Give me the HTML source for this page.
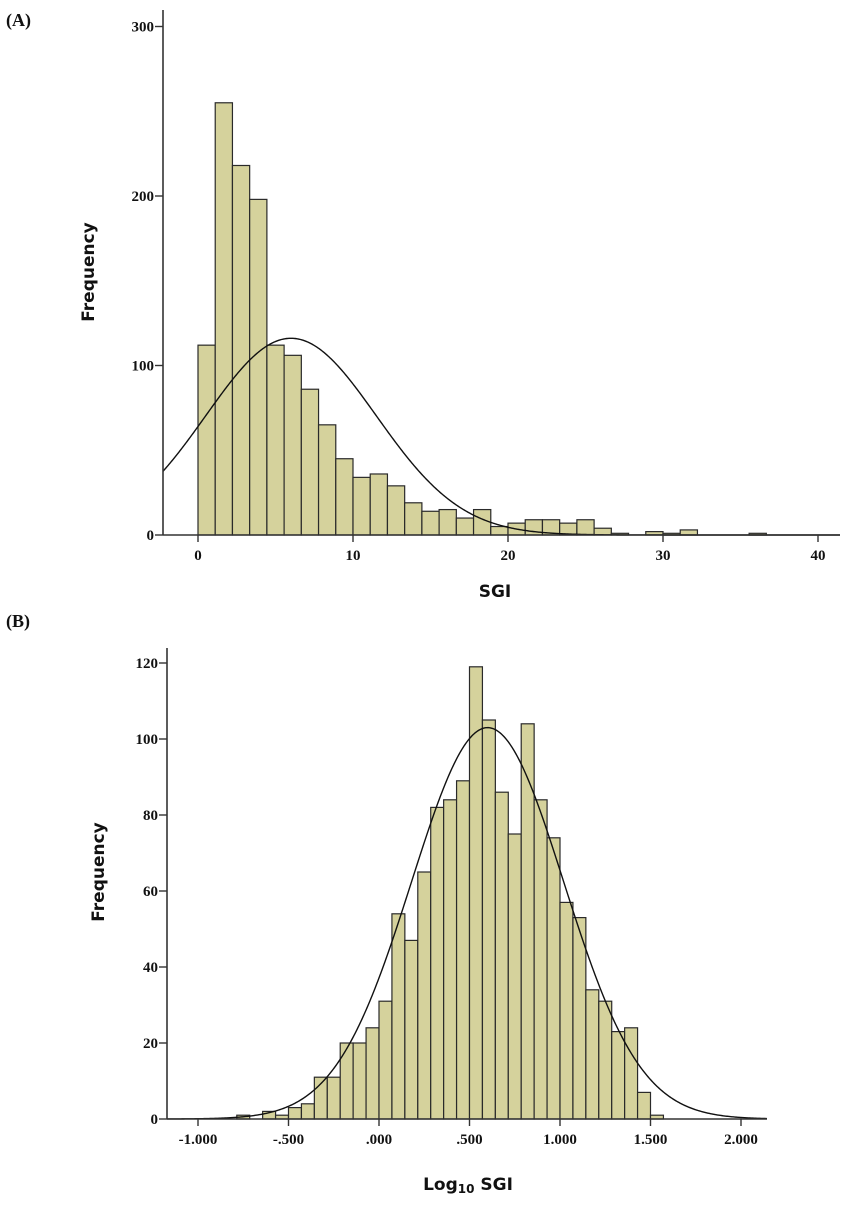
<!DOCTYPE html>
<html><head><meta charset="utf-8"><style>
body{margin:0;background:#fff;}
svg{display:block;}
.tk{font-family:"Liberation Serif",serif;font-weight:bold;font-size:15px;fill:#111;}
.ttl{font-family:"DejaVu Sans","Liberation Sans",sans-serif;font-weight:bold;font-size:17px;fill:#111;}
.pl{font-family:"Liberation Serif",serif;font-weight:bold;font-size:18px;fill:#111;}
</style></head><body>
<svg id="root" width="850" height="1205" viewBox="0 0 850 1205" xmlns="http://www.w3.org/2000/svg">
<text class="pl" x="6" y="26">(A)</text>
<text class="pl" x="6" y="627">(B)</text>
<text class="ttl" transform="translate(94,272) rotate(-90)" text-anchor="middle">Frequency</text>
<text class="ttl" x="495" y="597" text-anchor="middle">SGI</text>
<text class="ttl" transform="translate(104,872) rotate(-90)" text-anchor="middle">Frequency</text>
<text class="ttl" x="468" y="1190" text-anchor="middle">Log<tspan font-size="12" dy="3">10</tspan><tspan dy="-3"> SGI</tspan></text>
<g id="ga"></g><g id="gb"></g>
</svg>
<script>
// Chart A data
const binWidthA = 10/9;
const countsA = [112,255,218,198,112,106,86,65,45,34,36,29,19,14,15,10,15,5,7,9,9,7,9,4,1,0,2,1,3,0,0,0,1];
const xTicksA = [0,10,20,30,40];
const yTicksA = [0,100,200,300];
const normalA = [6.0, 5.5, 1440]; // mean, sd, n
// Chart B data
const binWidthB = 1/14;
const binStartB = -11/14;
const countsB = [1,0,2,1,3,4,11,11,20,20,24,31,54,47,65,82,84,89,119,105,86,75,104,84,74,57,53,34,31,23,24,7,1];
const xTicksB = [-1,-0.5,0,0.5,1,1.5,2];
const xTickLabelsB = ["-1.000","-.500",".000",".500","1.000","1.500","2.000"];
const yTicksB = [0,20,40,60,80,100,120];
const normalB = [0.60, 0.42, 1518];

const NS="http://www.w3.org/2000/svg";
function mk(tag,attrs,parent){const e=document.createElementNS(NS,tag);for(const k in attrs)e.setAttribute(k,attrs[k]);parent.appendChild(e);return e;}

function drawChart(g, o){
  const sx=v=>o.x0+(v-o.v0)*o.kx, sy=v=>o.y0-v*o.ky;
  // bars
  o.counts.forEach((c,i)=>{
    if(c<=0)return;
    const a=o.start+i*o.w, b=a+o.w;
    const r=mk('rect',{x:sx(a),y:sy(c),width:sx(b)-sx(a),height:sy(0)-sy(c),fill:'#d5d29c',stroke:'#2a2a2a','stroke-width':1.2},g);
    
    
  });
  // normal curve
  const [m,sd,n]=o.normal; let d='';
  for(let px=o.axX;px<=o.axEnd;px+=1){
    const v=o.v0+(px-o.x0)/o.kx;
    const f=n*o.w/(sd*Math.sqrt(2*Math.PI))*Math.exp(-((v-m)**2)/(2*sd*sd));
    d+=(d?'L':'M')+px+','+sy(f).toFixed(2);
  }
  const p=mk('path',{d:d,fill:'none',stroke:'#111','stroke-width':1.4},g);
  
  
  // axes
  const ya=mk('line',{x1:o.axX,y1:o.axTop,x2:o.axX,y2:o.y0,stroke:'#333','stroke-width':1.6},g);
  
  
  const xa=mk('line',{x1:o.axX,y1:o.y0,x2:o.axEnd,y2:o.y0,stroke:'#333','stroke-width':1.6},g);
  
  
  o.yTicks.forEach(t=>{
    mk('line',{x1:o.axX-8,y1:sy(t),x2:o.axX,y2:sy(t),stroke:'#333','stroke-width':1.4},g);
    const tx=mk('text',{x:o.axX-9,y:sy(t)+5,'text-anchor':'end',class:'tk'},g);
    tx.textContent=t;
    
    
  });
  o.xTicks.forEach((t,i)=>{
    mk('line',{x1:sx(t),y1:o.y0,x2:sx(t),y2:o.y0+7,stroke:'#333','stroke-width':1.4},g);
    const tx=mk('text',{x:sx(t),y:o.y0+25,'text-anchor':'middle',class:'tk'},g);
    tx.textContent=o.xLabels?o.xLabels[i]:t;
    
    
  });
}
drawChart(document.getElementById('ga'),{x0:198,v0:0,kx:15.5,y0:535,ky:169.5/100,axX:163,axTop:10,axEnd:840,
  counts:countsA,start:0,w:binWidthA,normal:normalA,yTicks:yTicksA,xTicks:xTicksA});
drawChart(document.getElementById('gb'),{x0:379,v0:0,kx:181,y0:1119,ky:3.8,axX:167,axTop:648,axEnd:767,
  counts:countsB,start:binStartB,w:binWidthB,normal:normalB,yTicks:yTicksB,xTicks:xTicksB,xLabels:xTickLabelsB});
</script>
</body></html>
